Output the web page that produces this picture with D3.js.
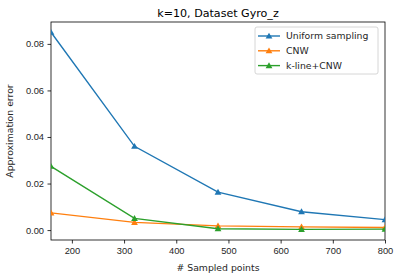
<!DOCTYPE html>
<html>
<head>
<meta charset="utf-8">
<script src="https://cdn.jsdelivr.net/npm/d3@7"></script>
<style>
  body { margin: 0; background: #fff; }
  svg { display: block; font-family: "DejaVu Sans", sans-serif; }
  .tick text { font-size: 9.3px; fill: #262626; }
</style>
</head>
<body>
<div id="chart"></div>
<script>
// data
var sampledPoints = [160, 320, 480, 640, 800];
var uniformSampling = [0.0850, 0.0360, 0.0163, 0.0079, 0.0045];
var cnw = [0.0074, 0.0033, 0.0018, 0.0014, 0.0011];
var klineCnw = [0.0274, 0.0050, 0.0006, 0.0003, 0.0004];
var seriesNames = ["Uniform sampling", "CNW", "k-line+CNW"];
var seriesColors = ["#1f77b4", "#ff7f0e", "#2ca02c"];
var xTicks = [200, 300, 400, 500, 600, 700, 800];
var yTicks = [0, 0.02, 0.04, 0.06, 0.08];

var svgWidth = 401, svgHeight = 278;
var margin = { top: 22, right: 16, bottom: 38, left: 51 };
var width = svgWidth - margin.left - margin.right;
var height = svgHeight - margin.top - margin.bottom;

var svg = d3.select("#chart").append("svg")
    .attr("width", svgWidth)
    .attr("height", svgHeight);

var chartGroup = svg.append("g")
    .attr("transform", `translate(${margin.left}, ${margin.top})`);

var x = d3.scaleLinear().domain([160, 800]).range([0, width]);
var y = d3.scaleLinear().domain([-0.00426, 0.0894]).range([height, 0]);

//axes
chartGroup.append("g")
    .attr("transform", `translate(0, ${height})`)
    .call(d3.axisBottom(x).tickValues(xTicks).tickSize(3.5).tickPadding(3.5))
    .call(g => g.select(".domain").remove());
chartGroup.append("g")
    .call(d3.axisLeft(y).tickValues(yTicks).tickFormat(d3.format(".2f")).tickSize(3.5).tickPadding(3.5))
    .call(g => g.select(".domain").remove());

chartGroup.selectAll(".tick line").attr("stroke", "#000").attr("stroke-width", 0.8);

//frame
chartGroup.append("rect")
    .attr("width", width).attr("height", height)
    .attr("fill", "none").attr("stroke", "#000").attr("stroke-width", 0.8);

var allSeries = [uniformSampling, cnw, klineCnw];
var tri = d3.symbol().type(d3.symbolTriangle).size(20);

chartGroup.append("clipPath").attr("id", "clip")
    .append("rect").attr("width", width).attr("height", height);

var line = d3.line().x((d, i) => x(sampledPoints[i])).y(d => y(d));

allSeries.forEach(function(vals, k) {
    var g = chartGroup.append("g").attr("clip-path", "url(#clip)");
    g.append("path")
        .datum(vals)
        .attr("d", line)
        .attr("fill", "none")
        .attr("stroke", seriesColors[k])
        .attr("stroke-width", 1.4);
    g.selectAll("path.mk")
        .data(vals)
        .enter()
        .append("path")
        .attr("class", "mk")
        .attr("d", tri)
        .attr("transform", (d, i) => `translate(${x(sampledPoints[i])}, ${y(d) + 0.6})`)
        .attr("fill", seriesColors[k]);
});

//legend
var legend = chartGroup.append("g")
    .attr("transform", `translate(${width - 130}, 5)`);
legend.append("rect")
    .attr("width", 123).attr("height", 47)
    .attr("rx", 2)
    .attr("fill", "#fff").attr("fill-opacity", 0.8)
    .attr("stroke", "#ccc").attr("stroke-width", 0.8);
seriesNames.forEach(function(name, k) {
    var ly = 9 + k * 14.8;
    legend.append("line")
        .attr("x1", 3).attr("x2", 25)
        .attr("y1", ly).attr("y2", ly)
        .attr("stroke", seriesColors[k]).attr("stroke-width", 1.4);
    legend.append("path")
        .attr("d", tri)
        .attr("transform", `translate(14, ${ly + 0.6})`)
        .attr("fill", seriesColors[k]);
    legend.append("text")
        .attr("x", 31).attr("y", ly)
        .attr("dy", "0.35em")
        .attr("font-size", "9.3px")
        .attr("fill", "#262626")
        .text(name);
});

//title and labels
svg.append("text")
    .attr("x", margin.left + width / 2).attr("y", 17)
    .attr("text-anchor", "middle")
    .attr("font-size", "11.1px")
    .attr("fill", "#000")
    .text("k=10, Dataset Gyro_z");

svg.append("text")
    .attr("x", margin.left + width / 2).attr("y", 271)
    .attr("text-anchor", "middle")
    .attr("font-size", "9.3px")
    .attr("fill", "#262626")
    .text("# Sampled points");

svg.append("text")
    .attr("transform", `translate(13, ${margin.top + height / 2}) rotate(-90)`)
    .attr("text-anchor", "middle")
    .attr("font-size", "9.3px")
    .attr("fill", "#262626")
    .text("Approximation error");
</script>
</body>
</html>
